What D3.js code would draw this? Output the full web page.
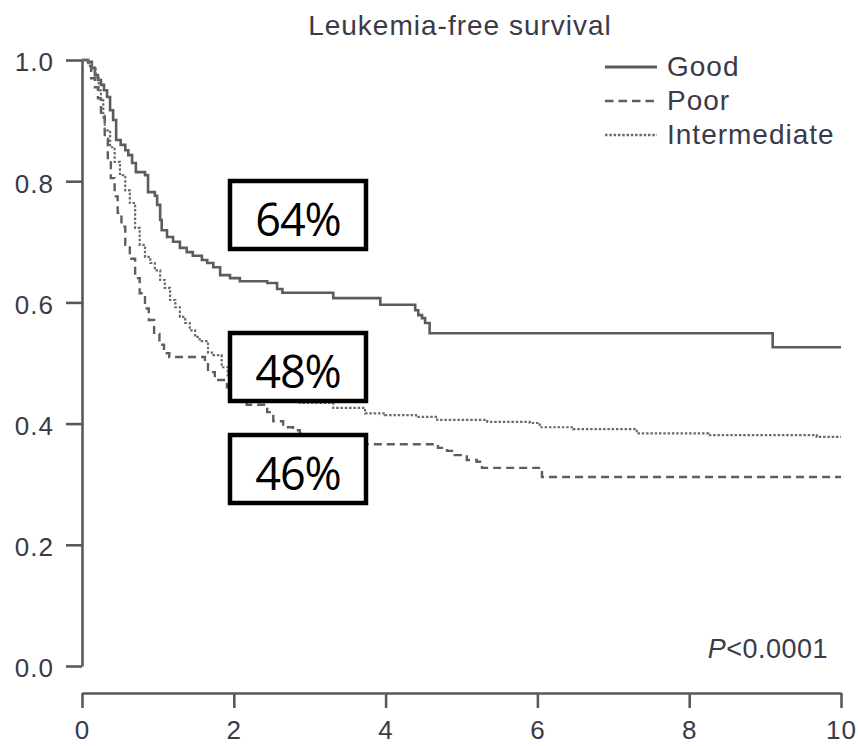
<!DOCTYPE html>
<html>
<head>
<meta charset="utf-8">
<script src="https://cdn.jsdelivr.net/npm/d3@7"></script>
<style>
  body { margin: 0; background: #fff; }
  svg { display: block; }
</style>
</head>
<body>
<svg id="chart" width="858" height="746"></svg>
<script>
// Kaplan–Meier leukemia-free survival by cytogenetic risk group (years on x).
const chartTitle = "Leukemia-free survival";
const seriesNames = ["Good", "Poor", "Intermediate"];

const goodTime = [0, 0.08, 0.13, 0.17, 0.21, 0.25, 0.29, 0.33, 0.37, 0.41,
  0.45, 0.51, 0.57, 0.61, 0.66, 0.71, 0.83, 0.87, 0.96, 0.99,
  1.03, 1.05, 1.12, 1.20, 1.29, 1.38, 1.46, 1.58, 1.65, 1.73,
  1.82, 1.95, 2.08, 2.44, 2.57, 2.64, 3.31, 3.93, 4.39, 4.43,
  4.48, 4.52, 4.58, 9.10, 10];
const goodSurv = [1.00, 0.997, 0.987, 0.975, 0.967, 0.959, 0.950, 0.939, 0.917, 0.901,
  0.868, 0.860, 0.851, 0.843, 0.830, 0.815, 0.810, 0.782, 0.776, 0.761,
  0.736, 0.719, 0.708, 0.700, 0.690, 0.683, 0.677, 0.670, 0.665, 0.658,
  0.645, 0.640, 0.635, 0.632, 0.622, 0.616, 0.607, 0.596, 0.587, 0.579,
  0.574, 0.566, 0.549, 0.526, 0.526];

const poorTime = [0, 0.08, 0.12, 0.17, 0.21, 0.25, 0.30, 0.34, 0.38, 0.43,
  0.47, 0.52, 0.57, 0.63, 0.70, 0.76, 0.83, 0.88, 0.95, 1.02,
  1.08, 1.15, 1.62, 1.66, 1.75, 1.91, 2.05, 2.12, 2.17, 2.44,
  2.52, 2.65, 2.78, 2.87, 2.94, 3.07, 3.27, 4.69, 4.81, 4.91,
  5.07, 5.20, 5.27, 6.06, 10];
const poorSurv = [1.00, 0.990, 0.970, 0.955, 0.937, 0.905, 0.870, 0.835, 0.805, 0.775,
  0.748, 0.725, 0.695, 0.672, 0.640, 0.615, 0.590, 0.571, 0.548, 0.530,
  0.516, 0.510, 0.502, 0.485, 0.472, 0.460, 0.445, 0.434, 0.431, 0.419,
  0.404, 0.394, 0.389, 0.384, 0.380, 0.373, 0.366, 0.360, 0.355, 0.348,
  0.340, 0.337, 0.327, 0.312, 0.312];

const interTime = [0, 0.08, 0.13, 0.18, 0.22, 0.25, 0.28, 0.30, 0.37, 0.43,
  0.50, 0.57, 0.63, 0.70, 0.76, 0.83, 0.90, 0.96, 1.03, 1.09,
  1.16, 1.23, 1.29, 1.36, 1.42, 1.49, 1.55, 1.66, 1.73, 1.84,
  1.92, 2.08, 2.28, 2.48, 2.67, 2.87, 3.31, 3.73, 3.99, 4.40,
  4.68, 5.34, 5.90, 6.03, 6.47, 7.31, 8.25, 9.68, 10];
const interSurv = [1.00, 0.995, 0.985, 0.970, 0.950, 0.934, 0.910, 0.884, 0.856, 0.832,
  0.810, 0.785, 0.764, 0.723, 0.695, 0.675, 0.665, 0.653, 0.637, 0.624,
  0.604, 0.592, 0.576, 0.566, 0.554, 0.543, 0.536, 0.517, 0.513, 0.493,
  0.480, 0.472, 0.459, 0.447, 0.439, 0.434, 0.426, 0.417, 0.414, 0.411,
  0.406, 0.403, 0.401, 0.394, 0.391, 0.384, 0.381, 0.378, 0.378];

const xTicks = [0, 2, 4, 6, 8, 10];
const yTicks = [0, 0.2, 0.4, 0.6, 0.8, 1.0];

// Two-year estimates written in the boxed call-outs
const landmarkLabels = ["64%", "48%", "46%"];
const pValueLabel = "<0.0001";

const series = [
  { name: seriesNames[0], time: goodTime, surv: goodSurv, dash: null, width: 2.6, color: "#5c5c5c" },
  { name: seriesNames[1], time: poorTime, surv: poorSurv, dash: "8,5", width: 2.4, color: "#5e5e5e" },
  { name: seriesNames[2], time: interTime, surv: interSurv, dash: "2.5,1.8", width: 2.2, color: "#6c6c6c" }
];

const svg = d3.select("#chart");
const textFont = "'Liberation Sans', Arial, Helvetica, sans-serif";
const textColor = "#3a3a48";
const axisColor = "#595959";

const x = d3.scaleLinear().domain([0, 10]).range([82, 841]);
const y = d3.scaleLinear().domain([0, 1]).range([666, 60]);

// Title
svg.append("text")
  .attr("x", 460).attr("y", 35)
  .attr("text-anchor", "middle")
  .attr("font-family", textFont).attr("font-size", 28)
  .attr("letter-spacing", 1)
  .attr("fill", textColor)
  .text(chartTitle);

// Y axis
const yAxis = svg.append("g")
  .attr("transform", `translate(${x(0)},0)`)
  .call(d3.axisLeft(y).tickValues(yTicks).tickFormat(d3.format(".1f"))
    .tickSize(16).tickSizeOuter(0).tickPadding(12));

// X axis, offset below the plotting region
const xAxis = svg.append("g")
  .attr("transform", "translate(0,693)")
  .call(d3.axisBottom(x).tickValues(xTicks).tickFormat(d3.format("d"))
    .tickSize(15).tickSizeOuter(0).tickPadding(13));

[yAxis, xAxis].forEach(g => {
  g.select(".domain").attr("stroke", axisColor).attr("stroke-width", 2.6);
  g.selectAll(".tick line").attr("stroke", axisColor).attr("stroke-width", 2.6);
  g.selectAll(".tick text")
    .attr("font-family", textFont).attr("font-size", 26)
    .attr("letter-spacing", 1)
    .attr("fill", textColor);
});
yAxis.selectAll(".tick text").attr("dy", "0.42em");

// Survival step curves
const line = d3.line()
  .x(d => x(d[0]))
  .y(d => y(d[1]))
  .curve(d3.curveStepAfter);

svg.append("g").selectAll("path")
  .data(series)
  .join("path")
  .attr("d", s => line(d3.zip(s.time, s.surv)))
  .attr("fill", "none")
  .attr("stroke", s => s.color)
  .attr("stroke-width", s => s.width)
  .attr("stroke-dasharray", s => s.dash)
  .attr("stroke-linejoin", "miter");

// Legend
const legend = svg.append("g");
series.forEach((s, i) => {
  const ly = 67 + i * 34;
  legend.append("line")
    .attr("x1", 605).attr("x2", 657)
    .attr("y1", ly).attr("y2", ly)
    .attr("stroke", s.color)
    .attr("stroke-width", i === 0 ? 3 : 2.6)
    .attr("stroke-dasharray", i === 1 ? "8.5,5" : (i === 2 ? "2.5,1.8" : null));
  legend.append("text")
    .attr("x", 667).attr("y", ly + 9)
    .attr("font-family", textFont).attr("font-size", 28)
    .attr("letter-spacing", 1)
    .attr("fill", textColor)
    .text(s.name);
});

// P value
const pText = svg.append("text")
  .attr("x", 828).attr("y", 658)
  .attr("text-anchor", "end")
  .attr("font-family", textFont).attr("font-size", 27)
  .attr("letter-spacing", 0.5)
  .attr("fill", textColor);
pText.append("tspan").attr("font-style", "italic").text("P");
pText.append("tspan").text(pValueLabel);

// Boxed two-year call-outs
const boxTops = [181, 333, 435];
const boxes = svg.append("g");
landmarkLabels.forEach((lab, i) => {
  boxes.append("rect")
    .attr("x", 230).attr("y", boxTops[i])
    .attr("width", 136).attr("height", 68)
    .attr("fill", "#fff")
    .attr("stroke", "#000")
    .attr("stroke-width", 4.5);
  boxes.append("text")
    .attr("x", 298).attr("y", boxTops[i] + 54.5)
    .attr("text-anchor", "middle")
    .attr("font-family", "'Open Sans', 'Noto Sans', sans-serif")
    .attr("font-size", 45)
    .attr("letter-spacing", -1)
    .attr("fill", "#000")
    .text(lab);
});
</script>
</body>
</html>
